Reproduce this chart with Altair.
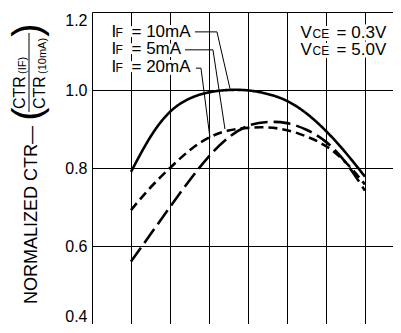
import altair as alt
import pandas as pd

# ---- data ----
temps = [-40, -30, -20, -10, 0, 10, 20, 30, 40, 50, 60, 70, 80]
ctr_10mA = [0.79, 0.88, 0.944, 0.978, 0.994, 1.0, 0.999, 0.99, 0.972, 0.94, 0.895, 0.84, 0.778]
ctr_5mA = [0.692, 0.75, 0.80, 0.845, 0.878, 0.896, 0.903, 0.904, 0.897, 0.881, 0.856, 0.815, 0.758]
ctr_20mA = [0.56, 0.63, 0.70, 0.768, 0.83, 0.878, 0.908, 0.918, 0.915, 0.898, 0.867, 0.815, 0.742]
series = ["10mA", "5mA", "20mA"]
x_grid = [-40, -20, 0, 20, 40, 60, 80]
y_ticks = [0.4, 0.6, 0.8, 1.0, 1.2]

# label leaders (temp, ctr) polylines
lead_10 = [(-7.2, 1.149), (4.1, 1.149), (10.8, 1.003)]
lead_5 = [(-12.3, 1.103), (2.05, 1.103), (8.2, 0.9)]
lead_20 = [(-6.7, 1.056), (-4.1, 1.056), (0.5, 0.878)]

lab_t = [-50, -50, -50]
lab_v = [1.136, 1.092, 1.046]
lab_rest = ["= 10mA", "= 5mA", "= 20mA"]
vce_t = [47, 47]
vce_v = [1.133, 1.090]
vce_rest = ["= 0.3V", "= 5.0V"]

FONT = "Liberation Sans"

rows = []
for name, vals in zip(series, [ctr_10mA, ctr_5mA, ctr_20mA]):
    for t, v in zip(temps, vals):
        rows.append({"series": name, "t": t, "v": v})
curves = pd.DataFrame(rows)

lrows = []
for name, pts in zip(series, [lead_10, lead_5, lead_20]):
    for i, (t, v) in enumerate(pts):
        lrows.append({"lead": name, "o": i, "t": t, "v": v})
leads = pd.DataFrame(lrows)

xs = alt.Scale(domain=[-60, 94.4], nice=False, zero=False)
ys = alt.Scale(domain=[0.4, 1.2], nice=False, zero=False)

base_x = alt.X("t:Q", scale=xs,
               axis=alt.Axis(values=x_grid, labels=False, ticks=False, title=None,
                             grid=True, gridColor="black", gridWidth=1, domainColor="black"))
base_y = alt.Y("v:Q", scale=ys,
               axis=alt.Axis(values=y_ticks, format=".1f", ticks=False, title=None,
                             labelFontSize=16, labelFont=FONT, labelColor="black",
                             labelPadding=5, labelFlush=True, grid=True, gridColor="black",
                             gridWidth=1, domainColor="black"))

labs = pd.DataFrame({"t": lab_t, "v": lab_v, "rest": lab_rest})
vces = pd.DataFrame({"t": vce_t, "v": vce_v, "rest": vce_rest})


def txt(df, text, dx, size, halo=False):
    kw = dict(align="left", baseline="alphabetic", font=FONT, fontSize=size, dx=dx)
    if halo:
        kw.update(color="white", stroke="white", strokeWidth=6, strokeJoin="round")
    else:
        kw.update(color="black")
    return alt.Chart(df).mark_text(**kw).encode(x="t:Q", y="v:Q", text=text)


pieces = [
    (labs, alt.value("I"), 0, 17), (labs, alt.value("F"), 4, 12), (labs, "rest:N", 20, 17),
    (vces, alt.value("V"), 0, 17), (vces, alt.value("CE"), 12, 12), (vces, "rest:N", 36, 17),
]
halos = [txt(d, t, dx, s, True) for d, t, dx, s in pieces]
texts = [txt(d, t, dx, s) for d, t, dx, s in pieces]

lines = alt.Chart(curves).mark_line(color="black", strokeWidth=2.6, interpolate="natural").encode(
    x=base_x, y=base_y,
    strokeDash=alt.StrokeDash("series:N", scale=alt.Scale(domain=series, range=[[1, 0], [9, 5], [17, 6]]), legend=None),
    detail="series:N",
)

leaders = alt.Chart(leads).mark_line(color="black", strokeWidth=1).encode(
    x="t:Q", y="v:Q", detail="lead:N", order="o:Q"
)

# y-axis title pieces, in pixels relative to the plot area
title_txt = ["NORMALIZED CTR\u2014", "CTR", "(IF)", "CTR", "(10mA)"]
title_px = [-55, -67, -66, -47, -46]
title_py = [292, 97, 62, 97, 62]
title_size = [18, 16, 11, 16, 11]
tdf = pd.DataFrame({"text": title_txt, "px": title_px, "py": title_py, "size": title_size})
ttl = alt.Chart(tdf).mark_text(angle=270, align="left", baseline="alphabetic", font=FONT, color="black").encode(
    x=alt.X("px:Q", scale=None), y=alt.Y("py:Q", scale=None),
    text="text:N", size=alt.Size("size:Q", scale=None, legend=None))

paren_txt = ["(", ")"]
paren_px = [-63, -63]
paren_py = [102, 18]
pdf = pd.DataFrame({"text": paren_txt, "px": paren_px, "py": paren_py})
par = alt.Chart(pdf).mark_text(angle=270, align="center", baseline="middle", font=FONT,
                               fontSize=40, color="black").encode(
    x=alt.X("px:Q", scale=None), y=alt.Y("py:Q", scale=None), text="text:N")

bar_df = pd.DataFrame({"px": [-63], "py": [100], "py2": [21]})
fbar = alt.Chart(bar_df).mark_rule(color="black", strokeWidth=1).encode(
    x=alt.X("px:Q", scale=None), y=alt.Y("py:Q", scale=None), y2="py2:Q")

chart = alt.layer(lines, leaders, *halos, *texts, ttl, par, fbar).properties(
    width=301, height=312,
    autosize=alt.AutoSizeParams(type="none"),
    padding={"left": 84, "top": 4, "right": 0, "bottom": 0},
).configure_view(stroke=None).configure(background="white")

chart.save("out.html", embed_options={"renderer": "svg", "actions": False})
